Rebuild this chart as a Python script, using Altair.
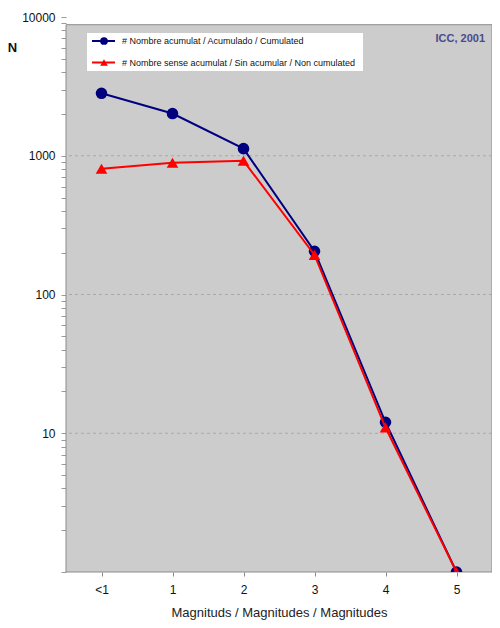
import altair as alt
import pandas as pd

categories = ["<1", "1", "2", "3", "4", "5"]
cumulated = [2820, 2015, 1125, 205, 12, 1]
non_cumulated = [805, 890, 920, 193, 11, 1]
series_names = [
    "# Nombre acumulat / Acumulado / Cumulated",
    "# Nombre sense acumulat / Sin acumular / Non cumulated",
]
series_colors = ["#00007f", "#ff0000"]
series_shapes = ["circle", "triangle-up"]
major_ticks = [10, 100, 1000, 10000]
grid_values = [10, 100, 1000]
y_tick_values = [k * d for d in [1, 10, 100, 1000] for k in range(1, 10)] + [10000]
plot_top_value = 8800

FONT = "Liberation Sans"
W, H = 426, 555

rows = []
for s, vals in zip(series_names, [cumulated, non_cumulated]):
    for c, v in zip(categories, vals):
        rows.append({"cat": c, "n": v, "series": s})
df = pd.DataFrame(rows)

yscale = alt.Scale(type="log", domain=[1, 10000])
xscale = alt.Scale(type="point", domain=categories, padding=0.5)

label_expr = "indexof([10,100,1000,10000], datum.value) >= 0 ? format(datum.value, 'd') : ''"

bg = alt.Chart(pd.DataFrame({"a": [0]})).mark_rect(
    fill="#cccccc", stroke="#8c8c8c", strokeWidth=1
).encode(
    x=alt.value(0), x2=alt.value("width"),
    y=alt.datum(plot_top_value, scale=yscale), y2=alt.datum(1),
)

grid = alt.Chart(pd.DataFrame({"g": grid_values})).mark_rule(
    color="#a8a8a8", strokeDash=[3, 3], strokeWidth=1
).encode(y=alt.Y("g:Q", scale=yscale))

base = alt.Chart(df)

x_enc = alt.X(
    "cat:N", scale=xscale, sort=categories,
    axis=alt.Axis(
        title="Magnituds / Magnitudes / Magnitudes", labelAngle=0,
        labelFont=FONT, labelFontSize=12, labelColor="#111111", labelPadding=8,
        tickSize=4, tickColor="#888888", domain=False,
        titleFont=FONT, titleFontSize=13, titleFontWeight="normal",
        titleColor="#222222", titlePadding=11,
    ),
)
y_enc = alt.Y(
    "n:Q", scale=yscale,
    axis=alt.Axis(
        values=y_tick_values, labelExpr=label_expr, labelOverlap=False,
        labelFont=FONT, labelFontSize=12, labelColor="#111111", labelPadding=6,
        tickSize=5, tickColor="#999999", domain=False, grid=False,
        title="N", titleAngle=0, titleX=-54, titleY=30, titleAlign="center",
        titleBaseline="middle", titleFont=FONT, titleFontSize=13,
        titleFontWeight="bold", titleColor="#111111",
    ),
)
color_enc = alt.Color("series:N", scale=alt.Scale(domain=series_names, range=series_colors), legend=None)
shape_enc = alt.Shape("series:N", scale=alt.Scale(domain=series_names, range=series_shapes), legend=None)

layers = [bg, grid]
for name in series_names:
    sub = base.transform_filter(alt.datum.series == name)
    layers.append(sub.mark_line(strokeWidth=2, clip=True).encode(x=x_enc, y=y_enc, color=color_enc))
    layers.append(sub.mark_point(filled=True, size=135, opacity=1, clip=True).encode(
        x=x_enc, y=y_enc, color=color_enc, shape=shape_enc))

one = pd.DataFrame({"a": [0]})
legend_box = alt.Chart(one).mark_rect(fill="white").encode(
    x=alt.value(21), x2=alt.value(297), y=alt.value(16), y2=alt.value(54))
layers.append(legend_box)
for i, (name, col, shp) in enumerate(zip(series_names, series_colors, series_shapes)):
    yy = 24 + 21.5 * i
    layers.append(alt.Chart(one).mark_rule(color=col, strokeWidth=2).encode(
        x=alt.value(26), x2=alt.value(49), y=alt.value(yy)))
    layers.append(alt.Chart(one).mark_point(filled=True, shape=shp, size=60, color=col, opacity=1).encode(
        x=alt.value(38), y=alt.value(yy)))
    layers.append(alt.Chart(one).mark_text(align="left", baseline="middle", font=FONT, fontSize=9,
                                           color="#111111").encode(
        x=alt.value(56), y=alt.value(yy), text=alt.value(name)))

credit = alt.Chart(one).mark_text(align="right", baseline="middle", font=FONT, fontSize=11,
                                  fontWeight="bold", color="#4b4a8c").encode(
    x=alt.value(419), y=alt.value(22), text=alt.value("ICC, 2001"))
layers.append(credit)

chart = alt.layer(*layers).properties(
    width=W, height=H,
    autosize=alt.AutoSizeParams(type="none"),
    padding={"left": 58, "top": 9, "right": 0, "bottom": 48},
    background="white",
).configure_view(stroke=None)

chart.save("out.html", embed_options={"renderer": "svg", "actions": False})
